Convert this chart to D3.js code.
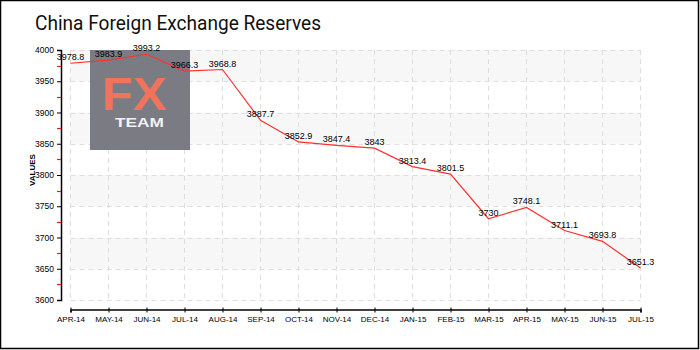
<!DOCTYPE html>
<html><head><meta charset="utf-8">
<script src="https://cdn.jsdelivr.net/npm/d3@7"></script>
<style>body{margin:0;background:#fff}svg{display:block}</style>
</head><body>
<svg id="c" width="700" height="350"></svg>
<script>
const months = ["APR-14","MAY-14","JUN-14","JUL-14","AUG-14","SEP-14","OCT-14","NOV-14","DEC-14","JAN-15","FEB-15","MAR-15","APR-15","MAY-15","JUN-15","JUL-15"];
const values = [3978.8,3983.9,3993.2,3966.3,3968.8,3887.7,3852.9,3847.4,3843,3813.4,3801.5,3730,3748.1,3711.1,3693.8,3651.3];
const valueLabels = ["3978.8","3983.9","3993.2","3966.3","3968.8","3887.7","3852.9","3847.4","3843","3813.4","3801.5","3730","3748.1","3711.1","3693.8","3651.3"];
const yTicks = [3600,3650,3700,3750,3800,3850,3900,3950,4000];
const yMinor = [3625,3675,3725,3775,3825,3875,3925,3975];
const title = "China Foreign Exchange Reserves";

const svg = d3.select("#c");
const x = d3.scalePoint().domain(months).range([70.5, 640.5]);
const y = d3.scaleLinear().domain([3600, 4000]).range([300, 50]);

// border
svg.append("rect").attr("x",0.5).attr("y",0.5).attr("width",698).attr("height",348)
  .attr("fill","#fff").attr("stroke","#000").attr("stroke-width",1.5);

// title
svg.append("text").attr("x",35).attr("y",30).text(title)
  .attr("font-family","Roboto").attr("font-weight",400).attr("font-size",21)
  .attr("fill","#111").attr("textLength",286).attr("lengthAdjust","spacingAndGlyphs");

// bands
const bands = d3.range(0, yTicks.length-1).filter(i => (yTicks.length-2-i) % 2 === 0);
svg.append("g").selectAll("rect").data(bands).join("rect")
  .attr("x", x.range()[0]).attr("width", x.range()[1]-x.range()[0])
  .attr("y", i => y(yTicks[i+1])).attr("height", i => y(yTicks[i]) - y(yTicks[i+1]))
  .attr("fill","#f7f7f7");

// grid
const grid = svg.append("g").attr("stroke","#dedede").attr("stroke-dasharray","5,4").attr("stroke-width",1);
grid.selectAll("line.h").data(yTicks).join("line").attr("class","h")
  .attr("x1", x.range()[0]).attr("x2", x.range()[1])
  .attr("y1", d => Math.round(y(d))+0.5).attr("y2", d => Math.round(y(d))+0.5);
grid.selectAll("line.v").data(months).join("line").attr("class","v")
  .attr("x1", d => x(d)).attr("x2", d => x(d)).attr("y1", 50).attr("y2", 300);

// logo
const logo = svg.append("g");
logo.append("rect").attr("x",90).attr("y",50).attr("width",100).attr("height",100)
  .attr("fill","#74747c").attr("opacity",0.95);
logo.append("text").attr("x",102).attr("y",110)
  .attr("font-family","Liberation Sans").attr("font-weight",700).attr("font-size",46)
  .attr("fill","#f0735c").attr("textLength",65).attr("lengthAdjust","spacingAndGlyphs").text("FX");
logo.append("text").attr("x",115).attr("y",126.5)
  .attr("font-family","Liberation Sans").attr("font-weight",700).attr("font-size",12.5)
  .attr("fill","#f2f2f2").attr("textLength",49).attr("lengthAdjust","spacingAndGlyphs").text("TEAM");

// y axis
const yAxis = svg.append("g").attr("transform","translate(61,0)")
  .call(d3.axisLeft(y).tickValues(yTicks).tickSize(4).tickPadding(3).tickFormat(d3.format("d")));
yAxis.select(".domain").attr("stroke","#000").attr("stroke-width",1.5);
yAxis.selectAll(".tick text").attr("font-family","Liberation Sans").attr("font-size",8.5).attr("fill","#000");
svg.append("g").selectAll("line").data(yMinor).join("line")
  .attr("x1",57).attr("x2",61).attr("y1", d => Math.round(y(d))+0.5).attr("y2", d => Math.round(y(d))+0.5)
  .attr("stroke","#e02020").attr("stroke-width",1.2);
svg.append("text").attr("transform","translate(35,170) rotate(-90)").attr("text-anchor","middle")
  .attr("font-family","Liberation Sans").attr("font-weight",700).attr("font-size",8).text("VALUES");

// x axis
const xAxis = svg.append("g").attr("transform","translate(0,309.5)")
  .call(d3.axisBottom(x).tickSize(3).tickPadding(4));
xAxis.select(".domain").attr("stroke","#000").attr("stroke-width",1.5);
xAxis.selectAll(".tick line").attr("y1",-2);
xAxis.selectAll(".tick text").attr("font-family","Liberation Sans").attr("font-size",8).attr("fill","#000");

// line
svg.append("path").datum(values)
  .attr("d", d3.line().x((d,i) => x(months[i])).y(d => y(d)))
  .attr("fill","none").attr("stroke","#ff3030").attr("stroke-width",1.2);

// labels
svg.append("g").selectAll("text").data(values).join("text")
  .attr("x",(d,i) => x(months[i])).attr("y", d => y(d) - 3)
  .attr("text-anchor","middle").attr("font-family","Liberation Sans").attr("font-size",9)
  .attr("fill","#000").text((d,i) => valueLabels[i]);
</script>
</body></html>
